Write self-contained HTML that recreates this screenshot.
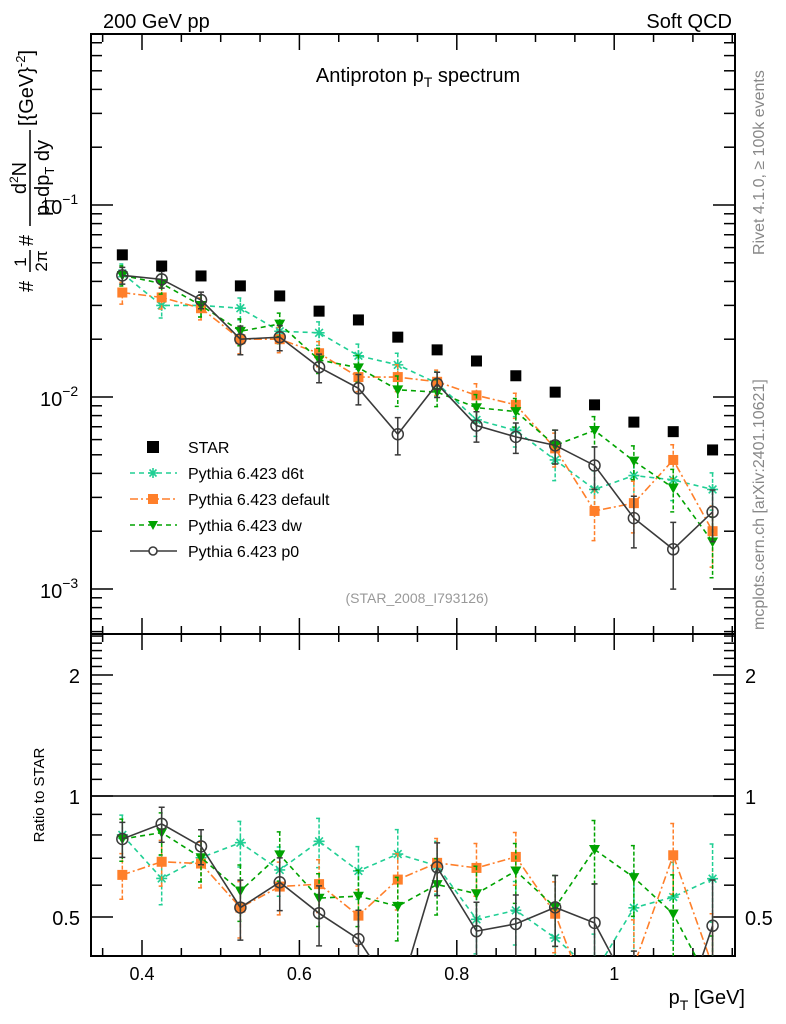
<!DOCTYPE html>
<html><head><meta charset="utf-8"><style>
html,body{margin:0;padding:0;background:#fff;width:786px;height:1024px;overflow:hidden;}
svg{display:block;font-family:"Liberation Sans",sans-serif;}
</style></head><body>
<svg id="chart" width="786" height="1024" viewBox="0 0 786 1024" xmlns="http://www.w3.org/2000/svg">
<defs>
<clipPath id="clipMain"><rect x="91" y="34" width="644" height="600"/></clipPath>
<clipPath id="clipRatio"><rect x="91" y="634" width="644" height="322"/></clipPath>
</defs>
<text x="103" y="28" font-size="20">200 GeV pp</text>
<text x="732" y="28" font-size="20" text-anchor="end">Soft QCD</text>
<text x="418" y="82" font-size="20" text-anchor="middle">Antiproton p<tspan font-size="14" dy="5">T</tspan><tspan dy="-5"> spectrum</tspan></text>
<text x="417" y="603" font-size="14" fill="#999" text-anchor="middle">(STAR_2008_I793126)</text>
<g transform="rotate(-90)">
  <text x="-292" y="33" font-size="20">#</text>
  <text x="-262" y="26" font-size="17" text-anchor="middle">1</text>
  <line x1="-272" y1="30" x2="-250" y2="30" stroke="#000" stroke-width="1.5"/>
  <text x="-261" y="47" font-size="17" text-anchor="middle">2π</text>
  <text x="-246" y="33" font-size="20">#</text>
  <text x="-178" y="26" font-size="20" text-anchor="middle">d<tspan font-size="12" dy="-8">2</tspan><tspan dy="8">N</tspan></text>
  <line x1="-226" y1="30" x2="-130" y2="30" stroke="#000" stroke-width="1.5"/>
  <text x="-178" y="49" font-size="20" text-anchor="middle">p<tspan font-size="13" dy="5">T</tspan><tspan dy="-5">dp</tspan><tspan font-size="13" dy="5">T</tspan><tspan dy="-5"> dy</tspan></text>
  <text x="-126" y="33" font-size="20">[{GeV}<tspan font-size="13" dy="-8">-2</tspan><tspan dy="8">]</tspan></text>
  <text x="-795" y="44" font-size="15" text-anchor="middle">Ratio to STAR</text>
  <text x="-255" y="764" font-size="16" fill="#888">Rivet 4.1.0, ≥ 100k events</text>
  <text x="-630" y="764" font-size="16" fill="#888">mcplots.cern.ch [arXiv:2401.10621]</text>
</g>
<text x="745" y="1004" font-size="20" text-anchor="end">p<tspan font-size="14" dy="6">T</tspan><tspan dy="-6"> [GeV]</tspan></text>
<g id="axes"></g>
<g id="mainMarks" clip-path="url(#clipMain)"></g>
<g id="ratioMarks" clip-path="url(#clipRatio)"></g>
<g id="legend"></g>
</svg>
<script>
var pt = [0.375,0.425,0.475,0.525,0.575,0.625,0.675,0.725,0.775,0.825,0.875,0.925,0.975,1.025,1.075,1.125];
var starVals = [0.0550,0.0481,0.0427,0.0379,0.0336,0.0280,0.0252,0.0205,0.0176,0.0154,0.0129,0.0106,0.0091,0.0074,0.0066,0.0053];
var d6tVals = [0.044,0.030,0.030,0.029,0.022,0.0216,0.0164,0.0147,0.0118,0.0076,0.0067,0.0047,0.0033,0.0039,0.0037,0.0033];
var d6tErr = [0.12,0.14,0.13,0.13,0.14,0.14,0.15,0.15,0.15,0.18,0.18,0.22,0.25,0.22,0.22,0.22];
var dfltVals = [0.035,0.033,0.029,0.020,0.020,0.0169,0.0127,0.0127,0.0120,0.0102,0.0091,0.0054,0.00255,0.0028,0.0047,0.0020];
var dfltErr = [0.13,0.13,0.13,0.16,0.15,0.15,0.16,0.16,0.15,0.15,0.15,0.2,0.3,0.3,0.2,0.35];
var dwVals = [0.043,0.039,0.030,0.022,0.024,0.0156,0.0142,0.0109,0.0106,0.0088,0.0084,0.0056,0.0067,0.00464,0.00336,0.00176];
var dwErr = [0.12,0.12,0.13,0.16,0.14,0.15,0.16,0.18,0.16,0.17,0.17,0.2,0.18,0.2,0.25,0.35];
var p0Vals = [0.043,0.041,0.032,0.020,0.0205,0.0143,0.0111,0.0064,0.0117,0.0071,0.0062,0.0056,0.0044,0.00234,0.00161,0.00252];
var p0Err = [0.1,0.1,0.1,0.17,0.15,0.17,0.18,0.22,0.15,0.18,0.18,0.2,0.25,0.3,0.38,0.3];
var xMajorTicks = [0.4,0.6,0.8,1.0];
var xTickLabels = ["0.4","0.6","0.8","1"];
var yMainMajor = [-1,-2,-3];
var yMainLabels = ["−1","−2","−3"];
var ratioMajor = [0.5,1,2];
var ratioLabels = ["0.5","1","2"];

var NS="http://www.w3.org/2000/svg";
var X0=91,X1=735,YT=34,YM=634,YB=956;
function xS(p){return 142+(p-0.4)*787;}
function yMain(v){return 205-(Math.log10(v)+1)*192;}
function yRatio(r){return 796-121*Math.log(r)/Math.LN2;}
function mk(tag,attrs,parent){var e=document.createElementNS(NS,tag);for(var k in attrs){e.setAttribute(k,String(attrs[k]));}parent.appendChild(e);return e;}
var axes=document.getElementById('axes');
var f1=mk('rect',{x:X0,y:YT,width:X1-X0,height:YM-YT,fill:'none',stroke:'#000','stroke-width':2},axes);


var f2=mk('rect',{x:X0,y:YM,width:X1-X0,height:YB-YM,fill:'none',stroke:'#000','stroke-width':2},axes);


for(var k=0;k<=16;k++){
  var p=0.35+k*0.05;
  var x=xS(p);if(x<X0||x>X1)continue;
  var maj=false;for(var q=0;q<xMajorTicks.length;q++){if(Math.abs(xMajorTicks[q]-p)<1e-6)maj=true;}
  var L=maj?16:8;
  var spec=[[YT,1],[YM,-1],[YM,1],[YB,-1]];
  for(var s=0;s<spec.length;s++){
    var t=mk('line',{x1:x,y1:spec[s][0],x2:x,y2:spec[s][0]+spec[s][1]*L,stroke:'#000','stroke-width':1.5},axes);
    
    
  }
}
for(var i=0;i<xMajorTicks.length;i++){
  var t=mk('text',{x:xS(xMajorTicks[i]),y:980,'font-size':18,'text-anchor':'middle'},axes);
  t.textContent=xTickLabels[i];
  
  
}
for(var e=-4;e<=0;e++){for(var m=1;m<10;m++){
  var y=yMain(m*Math.pow(10,e));if(y<YT||y>YM)continue;
  var L2=m===1?22:11;
  var t1=mk('line',{x1:X0,y1:y,x2:X0+L2,y2:y,stroke:'#000','stroke-width':1.5},axes);
  
  
  var t2=mk('line',{x1:X1,y1:y,x2:X1-L2,y2:y,stroke:'#000','stroke-width':1.5},axes);
  
  
}}
for(var i=0;i<yMainMajor.length;i++){
  var t=mk('text',{x:40,y:yMain(Math.pow(10,yMainMajor[i]))+9,'font-size':20},axes);
  t.textContent='10';
  var sp=mk('tspan',{'font-size':14,dy:-10},t);
  sp.textContent=yMainLabels[i];
  
  
}
var rMinor=[0.4,0.5,0.6,0.7,0.8,0.9,1,1.1,1.2,1.3,1.4,1.5,1.6,1.7,1.8,1.9,2,2.1,2.2,2.3,2.4,2.5];
for(var i=0;i<rMinor.length;i++){
  var r=rMinor[i];var y=yRatio(r);if(y<YM||y>YB)continue;
  var L3=(ratioMajor.indexOf(r)>=0)?22:11;
  var t1=mk('line',{x1:X0,y1:y,x2:X0+L3,y2:y,stroke:'#000','stroke-width':1.5},axes);
  
  
  var t2=mk('line',{x1:X1,y1:y,x2:X1-L3,y2:y,stroke:'#000','stroke-width':1.5},axes);
  
  
}
for(var i=0;i<ratioMajor.length;i++){
  var y=yRatio(ratioMajor[i])+8;
  var a=mk('text',{x:80,y:y,'font-size':20,'text-anchor':'end'},axes);a.textContent=ratioLabels[i];
  
  
  var b=mk('text',{x:745,y:y,'font-size':20},axes);b.textContent=ratioLabels[i];
  
  
}
var refl=mk('line',{x1:X0,y1:yRatio(1),x2:X1,y2:yRatio(1),stroke:'#000','stroke-width':1.5},axes);



function marker(g,type,x,y,color,s){
  var el;
  if(type==='square'){el=mk('rect',{x:x-s,y:y-s,width:2*s,height:2*s,fill:color},g);}
  else if(type==='tri'){el=mk('path',{d:'M'+(x-s)+' '+(y-s*0.8)+'L'+(x+s)+' '+(y-s*0.8)+'L'+x+' '+(y+s)+'Z',fill:color},g);}
  else if(type==='circle'){el=mk('circle',{cx:x,cy:y,r:s,fill:'none',stroke:color,'stroke-width':1.5},g);}
  else {var c=s*0.7;el=mk('path',{d:'M'+(x-s)+' '+y+'H'+(x+s)+'M'+x+' '+(y-s)+'V'+(y+s)+'M'+(x-c)+' '+(y-c)+'L'+(x+c)+' '+(y+c)+'M'+(x-c)+' '+(y+c)+'L'+(x+c)+' '+(y-c),stroke:color,'stroke-width':1.6,fill:'none'},g);}
  return el;
}
var series=[
  {name:'d6t',vals:d6tVals,err:d6tErr,color:'#20cf94',dash:'5,4',type:'star',s:5.5},
  {name:'default',vals:dfltVals,err:dfltErr,color:'#ff7f2a',dash:'8,3,2,3',type:'square',s:5},
  {name:'dw',vals:dwVals,err:dwErr,color:'#00a300',dash:'5,4',type:'tri',s:5.5},
  {name:'p0',vals:p0Vals,err:p0Err,color:'#3a3a3a',dash:'none',type:'circle',s:5.5}
];
var mainG=document.getElementById('mainMarks'),ratioG=document.getElementById('ratioMarks');
function drawSeries(sr,g,yf,vals,panel){
  var grp=mk('g',{},g);
  
  
  var pts=[];
  for(var i=0;i<vals.length;i++){pts.push(xS(pt[i])+','+yf(vals[i]));}
  var line=mk('polyline',{points:pts.join(' '),fill:'none',stroke:sr.color,'stroke-width':1.6,'stroke-dasharray':sr.dash},grp);
  
  
  for(var i=0;i<vals.length;i++){
    var v=vals[i],x=xS(pt[i]),er=sr.err[i];
    var y1=yf(v*(1+er)),y2=yf(v*(1-er));
    var eb=mk('path',{d:'M'+x+' '+y1+'V'+y2+'M'+(x-3)+' '+y1+'H'+(x+3)+'M'+(x-3)+' '+y2+'H'+(x+3),stroke:sr.color,'stroke-width':1.5,'stroke-dasharray':(sr.dash==='none'?'none':'4,2'),fill:'none'},grp);
    
    
    var mm=marker(grp,sr.type,x,yf(v),sr.color,sr.s);
    
    
  }
}
for(var j=0;j<series.length;j++){drawSeries(series[j],mainG,yMain,series[j].vals,'main');}
for(var i=0;i<starVals.length;i++){
  var sm=marker(mainG,'square',xS(pt[i]),yMain(starVals[i]),'#000',5.5);
  
  
}
for(var j=0;j<series.length;j++){
  var rv=[];for(var i=0;i<pt.length;i++){rv.push(series[j].vals[i]/starVals[i]);}
  drawSeries(series[j],ratioG,yRatio,rv,'ratio');
}
var lg=document.getElementById('legend');
var entries=[{label:'STAR',key:'star',type:'square',color:'#000',dash:null,s:6}];
for(var j=0;j<series.length;j++){entries.push({label:'Pythia 6.423 '+series[j].name,key:series[j].name,type:series[j].type,color:series[j].color,dash:series[j].dash,s:5});}
for(var i=0;i<entries.length;i++){
  var en=entries[i];var y=447+i*26;
  var g=mk('g',{},lg);
  
  
  if(en.dash!==null){mk('line',{x1:130,y1:y,x2:177,y2:y,stroke:en.color,'stroke-width':1.6,'stroke-dasharray':en.dash},g);}
  if(en.type==='circle'){mk('circle',{cx:153,cy:y,r:4,fill:'#fff',stroke:en.color,'stroke-width':1.6},g);}
  else {marker(g,en.type,153,y,en.color,en.s);}
  var tx=mk('text',{x:188,y:y+6,'font-size':16},g);tx.textContent=en.label;
}
</script>
</body></html>
